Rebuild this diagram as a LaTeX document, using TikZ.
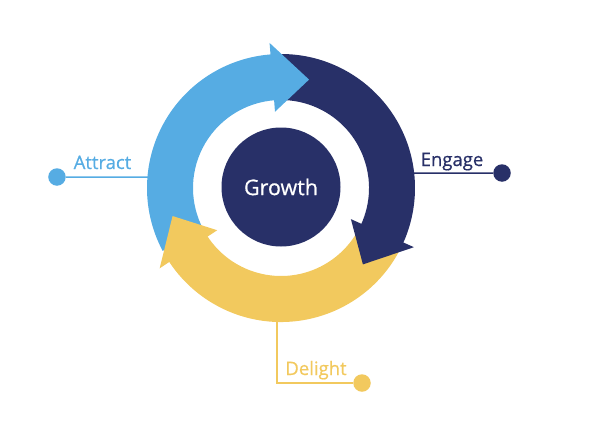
\documentclass[tikz,border=0pt]{standalone}
\usepackage{fontspec}
\setmainfont{Open Sans}[FakeBold=0.6]
\usetikzlibrary{positioning, calc}

\definecolor{attractblue}{RGB}{86,172,227}
\definecolor{engagenavy}{RGB}{40,48,104}
\definecolor{delightgold}{RGB}{242,201,94}

% ring piece from angle #2 to #3
\newcommand{\ringarrow}[3]{%
  \fill[#1] (#2:134) arc[start angle=#2, end angle=#3, radius=134]
    -- (#3:88) arc[start angle=#3, end angle=#2, radius=88] -- cycle;}
% head with base at #2 and tip at #3
\newcommand{\ringhead}[3]{%
  \fill[#1] (#2:145.5) -- (#3:112) -- (#2:76.5) -- cycle;}

\begin{document}
\begin{tikzpicture}[
    x=1pt, y=1pt,
    every node/.style={font=\fontsize{18.5}{22}\selectfont},
    dot/.style={circle, minimum size=17.5pt, inner sep=0pt},
    lbl/.style={anchor=base, inner sep=0pt},
    lead/.style={line width=1.5pt}
  ]
  \useasboundingbox (-281,-246) rectangle (315,188);

  % leader lines and dots
  \coordinate (attractEnd) at (175.3:133);
  \coordinate (engageEnd)  at (6.4:133);
  \coordinate (delightEnd) at (268.3:133);
  \node[dot, fill=attractblue] (attractDot) at (-224,11) {};
  \node[dot, fill=engagenavy]  (engageDot)  at (221,15) {};
  \node[dot, fill=delightgold] (delightDot) at (81,-195) {};
  \draw[lead, attractblue] (attractDot) -- (attractEnd);
  \draw[lead, engagenavy]  (engageEnd) -- (engageDot);
  \draw[lead, delightgold] (delightEnd) |- (delightDot);

  \node[lbl, text=attractblue] (attract) at (-178.5,19) {Attract};
  \node[lbl, text=engagenavy]  (engage)  at (171,22) {Engage};
  \node[lbl, text=delightgold] (delight) at (35,-187) {Delight};

  % ring bodies, then heads on top
  \ringarrow{attractblue}{208}{93.5}
  \ringarrow{engagenavy}{91}{-25}
  \ringarrow{delightgold}{-28}{-147.5}
  \ringhead{attractblue}{94.5}{75.5}
  \ringhead{engagenavy}{-24}{-43}
  \ringhead{delightgold}{-146.5}{-165.5}

  \node[circle, fill=engagenavy, minimum size=119pt, text=white,
        font=\fontsize{21.5}{26}\selectfont] (growth) at (0,1) {Growth};
\end{tikzpicture}
\end{document}
